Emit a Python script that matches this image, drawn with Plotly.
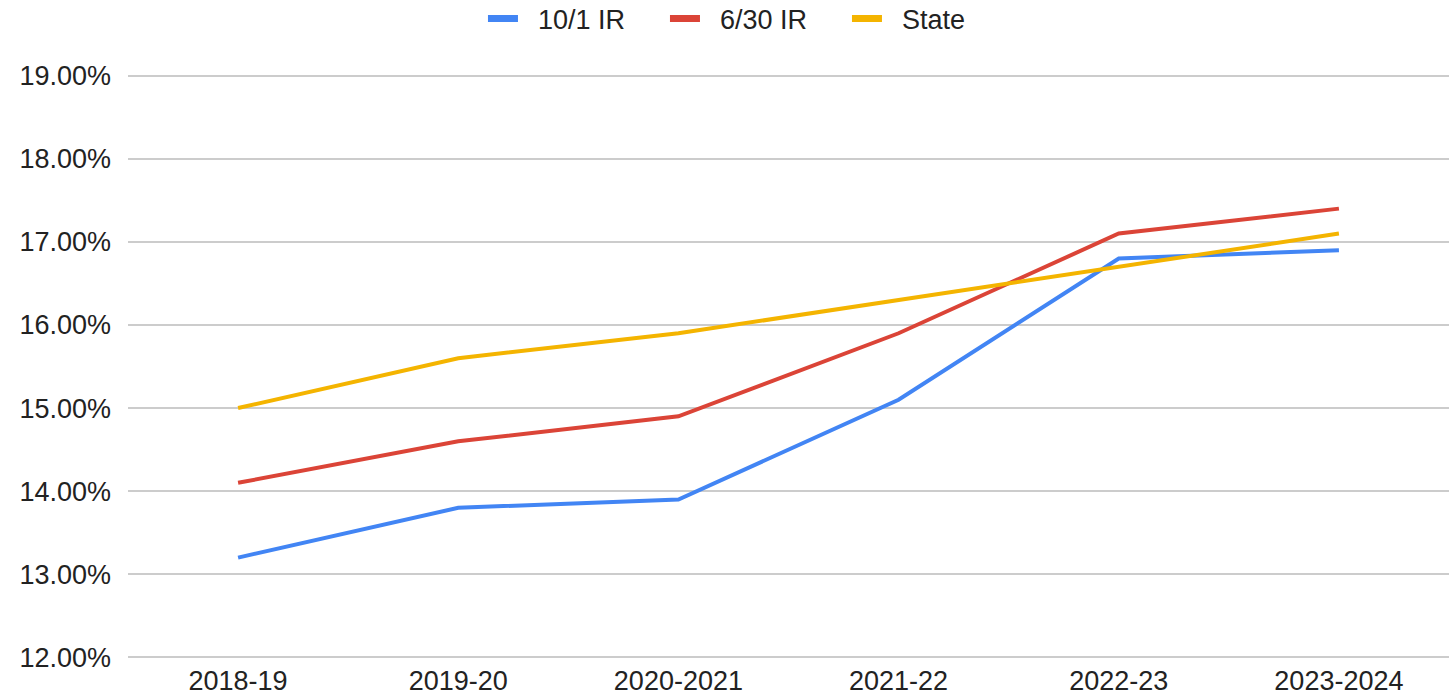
import plotly.graph_objects as go

categories = ["2018-19", "2019-20", "2020-2021", "2021-22", "2022-23", "2023-2024"]
ir_10_1 = [13.2, 13.8, 13.9, 15.1, 16.8, 16.9]
ir_6_30 = [14.1, 14.6, 14.9, 15.9, 17.1, 17.4]
state = [15.0, 15.6, 15.9, 16.3, 16.7, 17.1]
series_names = ["10/1 IR", "6/30 IR", "State"]
colors = ["#4285F4", "#DB4437", "#F4B400"]

fig = go.Figure()
for name, vals, col in zip(series_names, [ir_10_1, ir_6_30, state], colors):
    fig.add_trace(go.Scatter(
        x=categories, y=[v / 100 for v in vals], name=name, mode="lines",
        line=dict(color=col, width=4), legendgroup=name, showlegend=False,
    ))
# legend-only entries with thicker swatches
for name, col in zip(series_names, colors):
    fig.add_trace(go.Scatter(
        x=[None], y=[None], name="\u00a0\u00a0" + name, mode="lines",
        line=dict(color=col, width=7), legendgroup=name, showlegend=True,
    ))

fig.update_layout(
    width=1451, height=696,
    margin=dict(l=128, r=2, t=74, b=37, autoexpand=False),
    paper_bgcolor="white", plot_bgcolor="white",
    font=dict(family="Liberation Sans, Arial, sans-serif", size=27, color="#222222"),
    legend=dict(orientation="h", xref="container", x=0.521, xanchor="center",
                yref="paper", y=1.094, yanchor="middle", font=dict(size=27),
                entrywidth=137, entrywidthmode="pixels"),
    xaxis=dict(type="category", range=[-0.5, 5.5], showgrid=False, showline=False,
               ticks="", tickfont=dict(size=27), ticklabelstandoff=3),
    yaxis=dict(range=[0.1198, 0.1902], tickvals=[0.12, 0.13, 0.14, 0.15, 0.16, 0.17, 0.18, 0.19],
               tickformat=".2%", showgrid=True,
               gridcolor="#cccccc", gridwidth=1.5, zeroline=False, showline=False,
               ticks="", ticklabelstandoff=16, tickfont=dict(size=27)),
)
fig.write_html("out.html", config={"displayModeBar": False},
               post_script="document.body.style.margin='0';")
